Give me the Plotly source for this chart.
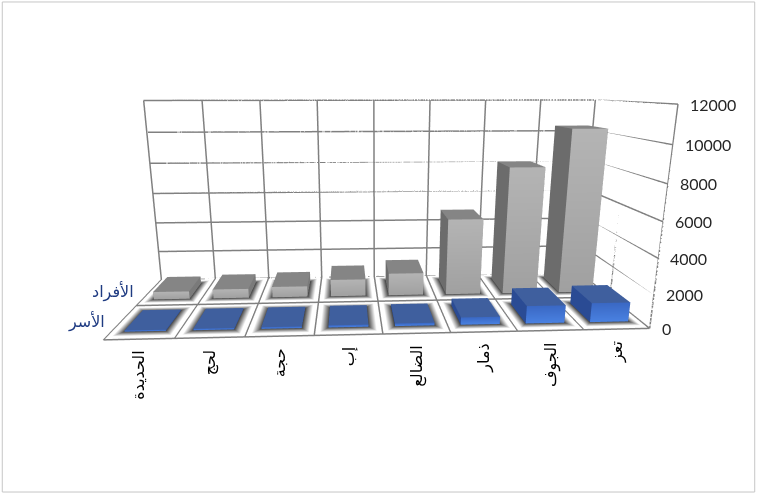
import plotly.graph_objects as go

# Governorates, in the order they appear along the category axis
governorates = ["الحديدة", "لحج", "حجة", "إب", "الضالع", "ذمار", "الجوف", "تعز"]
series_names = ["الأسر", "الأفراد"]
households = [80, 100, 110, 140, 170, 450, 1050, 1150]
individuals = [500, 600, 700, 1100, 1450, 4900, 8100, 10400]
value_ticks = [0, 2000, 4000, 6000, 8000, 10000, 12000]

n = len(governorates)
XL, XR = -0.5, n - 0.5          # category axis extent
YF, YB = -0.5, len(series_names) - 0.5   # series (depth) axis extent
ZMAX = value_ticks[-1]

BAR_W = 0.6    # fraction of a category cell
BAR_D = 0.6    # fraction of a series row
HALO = 0.12    # width of the soft floor shadow around each column

GRAY = dict(top="#858585", front_top="#b4b4b4", front_bot="#a0a0a0",
            left="#6c6c6c", right="#7a7a7a", back="#8a8a8a")
BLUE = dict(top="#3f5f9e", front_top="#3a68c4", front_bot="#4a82e2",
            left="#2a4b94", right="#34569e", back="#3f5f9e")
FLAT = dict(ambient=1, diffuse=0, specular=0, roughness=1, fresnel=0)


def column_mesh(values, row, pal, name):
    xs, ys, zs, cols, I, J, K = [], [], [], [], [], [], []

    def quad(pts, colors):
        base = len(xs)
        for (x, y, z), c in zip(pts, colors):
            xs.append(x); ys.append(y); zs.append(z); cols.append(c)
        I.extend([base, base]); J.extend([base + 1, base + 2]); K.extend([base + 2, base + 3])

    y0, y1 = row - BAR_D / 2, row + BAR_D / 2
    for i, v in enumerate(values):
        x0, x1 = i - BAR_W / 2, i + BAR_W / 2
        quad([(x0, y0, v), (x1, y0, v), (x1, y1, v), (x0, y1, v)], [pal["top"]] * 4)
        quad([(x0, y0, 0), (x1, y0, 0), (x1, y0, v), (x0, y0, v)],
             [pal["front_bot"], pal["front_bot"], pal["front_top"], pal["front_top"]])
        quad([(x0, y1, 0), (x1, y1, 0), (x1, y1, v), (x0, y1, v)], [pal["back"]] * 4)
        quad([(x0, y0, 0), (x0, y1, 0), (x0, y1, v), (x0, y0, v)], [pal["left"]] * 4)
        quad([(x1, y0, 0), (x1, y1, 0), (x1, y1, v), (x1, y0, v)], [pal["right"]] * 4)
    return go.Mesh3d(x=xs, y=ys, z=zs, i=I, j=J, k=K, vertexcolor=cols, name=name,
                     flatshading=True, hoverinfo="skip", lighting=FLAT)


def shadow_mesh(values, row):
    # soft halo on the floor: dark at the column footprint, fading to white
    xs, ys, zs, cols, I, J, K = [], [], [], [], [], [], []
    y0, y1 = row - BAR_D / 2, row + BAR_D / 2
    for i, _ in enumerate(values):
        x0, x1 = i - BAR_W / 2, i + BAR_W / 2
        inner = [(x0, y0), (x1, y0), (x1, y1), (x0, y1)]
        outer = [(x0 - HALO, y0 - HALO), (x1 + HALO, y0 - HALO),
                 (x1 + HALO, y1 + HALO), (x0 - HALO, y1 + HALO)]
        base = len(xs)
        for (x, y) in inner:
            xs.append(x); ys.append(y); zs.append(15); cols.append("#444444")
        for (x, y) in outer:
            xs.append(x); ys.append(y); zs.append(15); cols.append("#ffffff")
        I.extend([base, base]); J.extend([base + 1, base + 2]); K.extend([base + 2, base + 3])
        for s in range(4):
            a, b = base + s, base + (s + 1) % 4
            A, B = base + 4 + s, base + 4 + (s + 1) % 4
            I.extend([a, b]); J.extend([b, B]); K.extend([A, A])
    return go.Mesh3d(x=xs, y=ys, z=zs, i=I, j=J, k=K, vertexcolor=cols, hoverinfo="skip",
                     flatshading=True, lighting=FLAT)


def wall_grid():
    # value gridlines on the back wall and the right side wall,
    # series boundaries across the floor and up the side wall
    gx, gy, gz = [], [], []

    def seg(p, q):
        gx.extend([p[0], q[0], None]); gy.extend([p[1], q[1], None]); gz.extend([p[2], q[2], None])

    for v in value_ticks:
        seg((XL, YB, v), (XR, YB, v))
        seg((XR, YF, v), (XR, YB, v))
    for b in [k - 0.5 for k in range(len(series_names) + 1)]:
        seg((XL, b, 0), (XR, b, 0))
        seg((XR, b, 0), (XR, b, ZMAX))
    return go.Scatter3d(x=gx, y=gy, z=gz, mode="lines", hoverinfo="skip",
                        line=dict(color="#808080", width=3))


fig = go.Figure()
fig.add_trace(wall_grid())
fig.add_trace(shadow_mesh(individuals, 1))
fig.add_trace(shadow_mesh(households, 0))
fig.add_trace(column_mesh(individuals, 1, GRAY, series_names[1]))
fig.add_trace(column_mesh(households, 0, BLUE, series_names[0]))

annotations = []
for i, g in enumerate(governorates):
    annotations.append(dict(x=i, y=YF, z=0, text=g, showarrow=False, textangle=-90,
                            xanchor="center", yanchor="top", yshift=-10,
                            font=dict(family="DejaVu Sans", size=16, color="#000000")))
for v in value_ticks:
    annotations.append(dict(x=XR, y=YF, z=v, text=str(v), showarrow=False,
                            xanchor="left", xshift=10,
                            font=dict(family="Lato", size=16, color="#262626")))
for row, s in enumerate(series_names):
    annotations.append(dict(x=XL, y=row, z=0, text=s, showarrow=False,
                            xanchor="right", xshift=-14,
                            font=dict(family="DejaVu Sans", size=16, color="#1f3b82")))

axis_common = dict(title=dict(text=""), showticklabels=False, showspikes=False,
                   showbackground=False, zeroline=False, showline=False,
                   ticks="", tickmode="array")

fig.update_layout(
    width=757, height=494, margin=dict(l=0, r=0, t=0, b=0),
    paper_bgcolor="#ffffff", showlegend=False,
    scene=dict(
        domain=dict(x=[0, 1], y=[0, 1]),
        xaxis=dict(axis_common, range=[XL, XR], showgrid=True, gridcolor="#808080",
                   gridwidth=3, tickvals=[k - 0.5 for k in range(n + 1)]),
        yaxis=dict(axis_common, range=[YF, YB], showgrid=False, tickvals=[]),
        zaxis=dict(axis_common, range=[0, ZMAX], showgrid=False, tickvals=[]),
        aspectmode="manual", aspectratio=dict(x=2.45, y=0.85, z=1.0),
        camera=dict(eye=dict(x=-0.15, y=-2.90, z=0.567), center=dict(x=0, y=-0.053, z=-0.196),
                    up=dict(x=0, y=0, z=1), projection=dict(type="perspective")),
        annotations=annotations,
    ),
    shapes=[dict(type="rect", xref="paper", yref="paper", x0=0.003, y0=0.004,
                 x1=0.997, y1=0.996, line=dict(color="#c6c6c6", width=1))],
)

fig.write_html("out.html")
